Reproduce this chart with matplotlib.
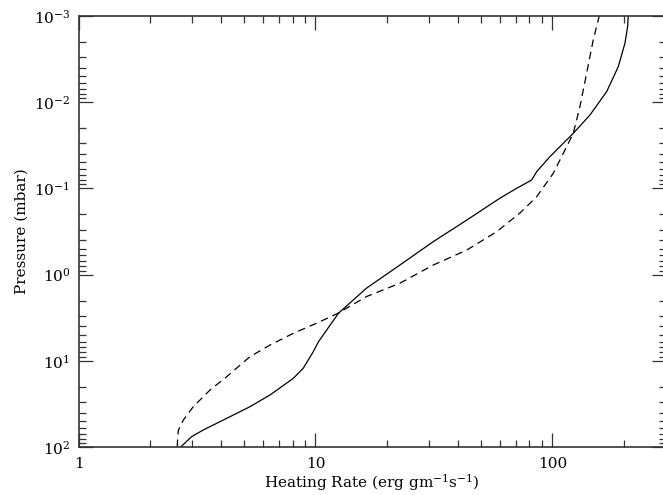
import matplotlib.pyplot as plt
from matplotlib.ticker import LogLocator, FixedLocator, NullFormatter

plt.rcParams['font.family'] = ['DejaVu Serif']
plt.rcParams['mathtext.fontset'] = 'dejavuserif'

# solid profile
solid_rate = [2.70, 3.00, 3.36, 4.22, 5.29, 6.43, 8.06, 8.88, 9.79, 10.3, 12.5, 16.4,
              22.7, 31.4, 43.5, 60.0, 70.6, 81.7, 85.8, 97.6, 122.4, 144, 169.3,
              189.6, 202.3, 207.6, 208.9]
solid_p = [100, 75.9, 63.5, 46.5, 34.1, 24.9, 16.0, 12.2, 7.84, 6.0, 2.81, 1.44,
           0.775, 0.415, 0.233, 0.130, 0.0998, 0.080, 0.064, 0.0428, 0.0230, 0.01407,
           0.00755, 0.00387, 0.00207, 0.00133, 0.001]

# dashed profile
dashed_rate = [2.61, 2.62, 2.64, 2.77, 3.05, 3.59, 4.22, 5.29, 6.43, 8.06, 10.1, 12.5, 16.4,
               22.7, 31.4, 43.5, 58.2, 72.9, 85.8, 100.8, 114.8, 122.4, 130.6, 139.4,
               148.6, 157.6]
dashed_p = [100, 80, 63.5, 48.6, 34.1, 21.8, 15.3, 8.96, 6.56, 4.80, 3.67, 2.79, 1.80,
            1.26, 0.775, 0.519, 0.318, 0.193, 0.125, 0.0668, 0.0328, 0.0230, 0.01127,
            0.00462, 0.0019, 0.001]

x_ticks = [1, 10, 100]
x_ticklabels = ['1', '10', '100']
y_ticks = [1e-3, 1e-2, 1e-1, 1e0, 1e1, 1e2]
y_ticklabels = [r'$10^{-3}$', r'$10^{-2}$', r'$10^{-1}$', r'$10^{0}$', r'$10^{1}$', r'$10^{2}$']

fig = plt.figure(figsize=(6.63, 4.95), dpi=100)
ax = fig.add_axes([78.5 / 663, 48 / 495, 587 / 663, 431 / 495])

ax.plot(solid_rate, solid_p, color='black', lw=0.9, solid_joinstyle='round')
ax.plot(dashed_rate, dashed_p, color='black', lw=0.9, dashes=(6, 4))

ax.set_xscale('log')
ax.set_yscale('log')
ax.set_xlim(1, 300)
ax.set_ylim(100, 1e-3)

ax.xaxis.set_major_locator(FixedLocator(x_ticks))
ax.set_xticklabels(x_ticklabels)
ax.xaxis.set_minor_locator(LogLocator(base=10, subs=range(2, 10), numticks=20))
ax.xaxis.set_minor_formatter(NullFormatter())
ax.yaxis.set_major_locator(FixedLocator(y_ticks))
ax.set_yticklabels(y_ticklabels)
ax.yaxis.set_minor_locator(LogLocator(base=10, subs=range(2, 10), numticks=20))
ax.yaxis.set_minor_formatter(NullFormatter())

ax.tick_params(which='both', direction='in', top=True, right=True, labelsize=11,
               width=0.9, color='#333333')
ax.tick_params(which='major', length=10)
ax.tick_params(axis='x', which='major', pad=7)
ax.tick_params(axis='y', which='major', pad=6)
ax.tick_params(which='minor', length=5)
for s in ax.spines.values():
    s.set_linewidth(1.2)
    s.set_color('#333333')

ax.set_xlabel(r'Heating Rate (erg gm$^{-1}$s$^{-1}$)', fontsize=11, labelpad=1)
ax.set_ylabel('Pressure (mbar)', fontsize=11, labelpad=4)

fig.savefig('out.png', dpi=100)
